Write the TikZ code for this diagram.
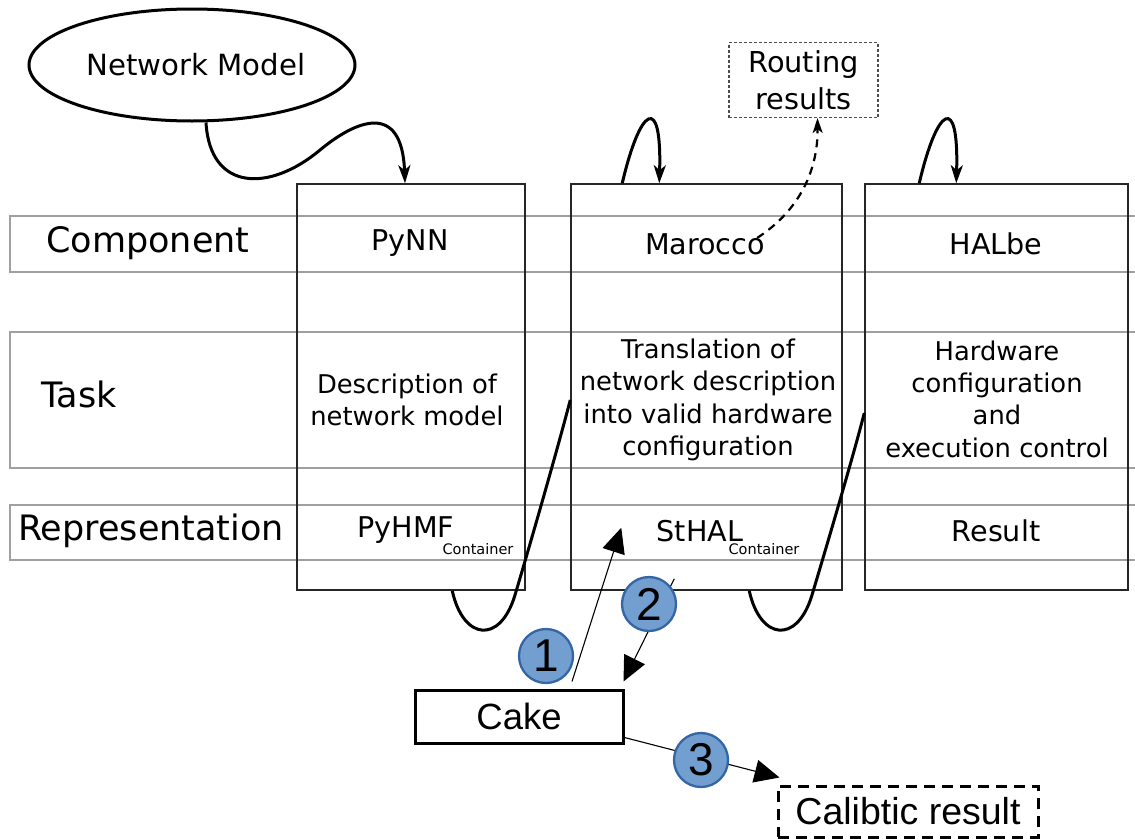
\documentclass[tikz,border=0pt]{standalone}
\usepackage{fontspec}
\setmainfont{DejaVu Sans}
\newfontfamily\lib{Liberation Sans}
\usetikzlibrary{arrows.meta,shapes.geometric}
\definecolor{bandgray}{HTML}{A0A0A0}
\definecolor{circfill}{HTML}{729FCF}
\definecolor{circline}{HTML}{3465A4}
\begin{document}
\begin{tikzpicture}[x=1pt,y=-1pt,
  band/.style={draw=bandgray, line width=1.7pt, rectangle, inner sep=0pt, anchor=north west, minimum width=1131pt},
  colbox/.style={draw=black!85, line width=1.5pt, rectangle, inner sep=0pt, minimum height=406pt},
  lbl/.style={font=\fontsize{35}{40}\selectfont, inner sep=0pt},
  comp/.style={font=\fontsize{28.6}{36}\selectfont, inner sep=0pt},
  task/.style={font=\fontsize{25.8}{32.3}\selectfont, align=center, inner sep=0pt},
  small/.style={font=\fontsize{14.5}{16}\selectfont, inner sep=0pt},
  loopar/.style={line width=3pt, -{Stealth[length=18pt,width=12pt,inset=5pt]}},
  sline/.style={line width=3pt},
  numarrow/.style={line width=1.1pt, -{Triangle[length=25pt,width=23pt]}},
  numcirc/.style={circle, fill=circfill, draw=circline, line width=2.3pt, minimum size=54pt, inner sep=0pt, font=\lib\fontsize{46}{46}\selectfont},
]
\useasboundingbox (0,0) rectangle (1135,838);

% horizontal bands
\node[band, minimum height=56pt] (bcomp) at (9,215) {};
\node[band, minimum height=136pt] (btask) at (9,331) {};
\node[band, minimum height=55pt] (brep) at (9,504) {};

\node[lbl] (lcomp) at (148,243) {Component};
\node[lbl] (ltask) at (79,394) {Task};
\node[lbl] (lrep) at (151,531) {Representation};

% columns
\node[colbox, minimum width=228pt] (pynn) at (411,387) {};
\node[colbox, minimum width=271pt] (maro) at (706.5,387) {};
\node[colbox, minimum width=263pt] (halbe) at (996.5,387) {};

\node[comp] (tpynn) at (410,243) {PyNN};
\node[comp] (tmaro) at (705,244) {Marocco};
\node[comp] (thalbe) at (996,244) {HALbe};

\node[task] (kpynn) at (407,400) {Description of\\network model};
\node[task] (kmaro) at (708,400) {Translation of\\network description\\into valid hardware\\configuration};
\node[task] (khalbe) at (997,399) {Hardware\\configuration\\and\\execution control};

\node[comp] (rpynn) at (406,530) {PyHMF};
\node[small] (cpynn) at (478,549) {Container};
\node[comp] (rmaro) at (700,531) {StHAL};
\node[small] (cmaro) at (764,549) {Container};
\node[comp] (rhalbe) at (996,531) {Result};

% top elements
\node[ellipse, draw, line width=3pt, minimum width=326pt, minimum height=112pt, inner sep=0pt,
      font=\fontsize{29.2}{36}\selectfont] (nm) at (192,65) {};
\node[font=\fontsize{29.2}{36}\selectfont, inner sep=0pt] (nmt) at (196,65) {Network Model};
\node[draw=black!70, dash pattern=on 3pt off 2pt, line width=1.1pt, minimum width=149pt, minimum height=75pt,
      inner sep=0pt, align=center, font=\fontsize{28.8}{37}\selectfont] (rout) at (803.5,80) {Routing\\results};

% bottom elements
\node[draw, line width=3pt, minimum width=208pt, minimum height=53pt, inner sep=0pt,
      font=\lib\fontsize{36.5}{40}\selectfont] (cake) at (519,716.5) {Cake};
\node[draw, line width=3pt, dash pattern=on 11pt off 7pt, minimum width=260pt, minimum height=51pt, inner sep=0pt,
      font=\lib\fontsize{37.5}{40}\selectfont] (calib) at (908,811.5) {Calibtic result};

% loops on top
\draw[loopar] ([xshift=14pt]nm.south) .. controls (210,192) and (270,192) .. (320,150)
   .. controls (355,121) and (402,100) .. ([xshift=-6pt]pynn.north);
\draw[loopar] ([xshift=52pt]maro.north west) .. controls (640,107) and (662,92) .. ([xshift=89pt]maro.north west);
\draw[loopar] ([xshift=55pt]halbe.north west) .. controls (937,107) and (959,92) .. ([xshift=92pt]halbe.north west);
\draw[line width=2.2pt, dash pattern=on 8pt off 6pt, -{Stealth[length=15pt,width=10pt,inset=4pt]}]
   ([xshift=-8pt,yshift=6pt]tmaro.east) .. controls (800,210) and (818,170) .. ([xshift=14pt]rout.south);

% S-curves at the bottom
\draw[sline] ([xshift=156pt]pynn.south west) .. controls (463,640) and (500,645) .. (515,595)
   .. controls (530,545) and (560,440) .. ([yshift=-13pt]maro.west);
\draw[sline] ([xshift=179pt]maro.south west) .. controls (760,640) and (797,645) .. (812,595)
   .. controls (827,545) and (855,450) .. ([yshift=-26pt]halbe.west);

% numbered arrows
\draw[numarrow] ([xshift=53pt,yshift=7pt]cake.north) -- ([xshift=51pt,yshift=63pt]maro.south west);
\draw[numarrow] ([xshift=104pt,yshift=12pt]maro.south west) -- ([xshift=-1pt,yshift=7pt]cake.north east);
\draw[numarrow] ([yshift=7pt]cake.south east) -- ([xshift=3pt,yshift=7pt]calib.north west);

\node[numcirc] (n1) at (546,656) {1};
\node[numcirc] (n2) at (649,604) {2};
\node[numcirc] (n3) at (701,760) {3};
\end{tikzpicture}
\end{document}
